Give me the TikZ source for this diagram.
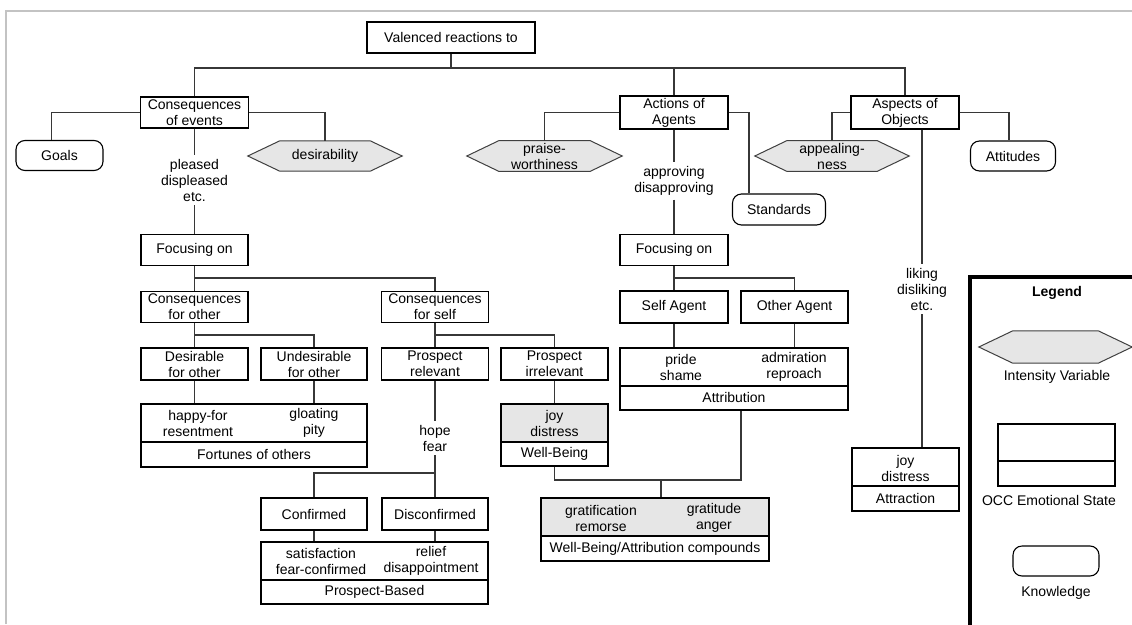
\documentclass[tikz,border=0pt]{standalone}
\usepackage{fontspec}
\setmainfont{Liberation Sans}
\usetikzlibrary{backgrounds}
\definecolor{shade}{RGB}{230,230,230}
\definecolor{linegray}{RGB}{55,55,55}
\definecolor{framegray}{RGB}{195,195,195}
\newcommand\fs{\fontsize{14}{16}\selectfont}
% hexagon outline around a named node (tip inset #1)
\newcommand\hexaround[2][32]{%
  \path[hexline] (#2.west) -- ([xshift=#1]#2.north west) -- ([xshift=-#1]#2.north east)
    -- (#2.east) -- ([xshift=-#1]#2.south east) -- ([xshift=#1]#2.south west) -- cycle;}
\tikzset{
  base/.style={font=\fs, align=center, inner sep=2pt},
  box/.style={base, draw=black, line width=1.1pt, minimum width=107, minimum height=31},
  know/.style={base, draw=black, line width=1.1pt, rounded corners=9pt, minimum height=30},
  hexn/.style={base, minimum height=30},
  lbl/.style={base, inner sep=4pt},
  conn/.style={draw=linegray, line width=1.2pt},
  divline/.style={draw=black, line width=1.1pt},
  hexline/.style={draw=black!75, line width=1pt, fill=shade},
  upfill/.style={fill=shade},
}
\begin{document}
\begin{tikzpicture}[x=1pt, y=-1pt]
\useasboundingbox (0,0) rectangle (1132,624);
% page frame
\draw[framegray, line width=2pt] (6,624) -- (6,11) -- (1132,11);

% top level
\node[box, minimum width=168] (val) at (451,37.5) {Valenced reactions to};
\node[box, minimum width=108] (cev) at (194.5,112.5) {Consequences\\of events};
\node[box, minimum width=108] (aag) at (674,112.5) {Actions of\\Agents};
\node[box, minimum width=108] (aoo) at (905,112.5) {Aspects of\\Objects};

% knowledge and intensity variables
\node[know, minimum width=87] (goals) at (59.5,155.5) {Goals};
\node[hexn, minimum width=154] (desir) at (325,156) {desirability};
\node[hexn, minimum width=155] (praise) at (544.5,156) {praise-\\worthiness};
\node[hexn, minimum width=154] (appeal) at (832,156) {appealing-\\ness};
\node[know, minimum width=85] (atti) at (1013,156) {Attitudes};
\node[know, minimum width=93, minimum height=31] (std) at (779,209.5) {Standards};

% edge labels
\node[lbl] (pl) at (194.5,180) {pleased\\displeased\\etc.};
\node[lbl] (apd) at (674,181) {approving\\disapproving};
\node[lbl] (lik) at (922,289) {liking\\disliking\\etc.};
\node[lbl] (hope) at (435,438) {hope\\fear};

% events branch
\node[box] (focL) at (194.5,250) {Focusing on};
\node[box] (cfo) at (194.5,307) {Consequences\\for other};
\node[box] (cfs) at (435,307) {Consequences\\for self};
\node[box, minimum height=32] (dfo) at (194.5,364) {Desirable\\for other};
\node[box, minimum width=106, minimum height=32] (ufo) at (314,364) {Undesirable\\for other};
\node[box, minimum height=32] (prl) at (435,364) {Prospect\\relevant};
\node[box, minimum height=32] (pir) at (554.5,364) {Prospect\\irrelevant};
\node[box, minimum width=106, minimum height=32] (conf) at (314,514) {Confirmed};
\node[box, minimum width=106, minimum height=32] (disc) at (435,514) {Disconfirmed};

% agents branch
\node[box, minimum width=108] (focR) at (674,250) {Focusing on};
\node[box, minimum width=108, minimum height=32] (selfA) at (674,307) {Self Agent};
\node[box, minimum height=32] (othA) at (794.5,307) {Other Agent};

% emotion boxes (outer frames)
\node[box, minimum width=226, minimum height=63] (fort) at (254,435.5) {};
\node[box, minimum width=107, minimum height=62] (wb) at (554.5,435) {};
\node[box, minimum width=228, minimum height=62] (atb) at (734,379) {};
\node[box, minimum width=227, minimum height=62] (pb) at (374.5,573) {};
\node[box, minimum width=228, minimum height=63] (wba) at (655,529.5) {};
\node[box, minimum width=107, minimum height=63] (atr) at (905.5,479.5) {};

% dividers
\draw[divline] (fort.west |- 0,442) -- (fort.east |- 0,442);
\draw[divline] (wb.west |- 0,442) -- (wb.east |- 0,442);
\draw[divline] (atb.west |- 0,386) -- (atb.east |- 0,386);
\draw[divline] (pb.west |- 0,580) -- (pb.east |- 0,580);
\draw[divline] (wba.west |- 0,536) -- (wba.east |- 0,536);
\draw[divline] (atr.west |- 0,486) -- (atr.east |- 0,486);

% emotion texts
\node[base] (fortA) at (198,423) {happy-for\\resentment};
\node[base] (fortB) at (314,423) {gloating\\pity};
\node[base] (fortC) at (254,454.5) {Fortunes of others};
\node[base] (wbA) at (554.5,423) {joy\\distress};
\node[base] (wbC) at (554.5,454) {Well-Being};
\node[base] (atbA) at (681,367) {pride\\shame};
\node[base] (atbB) at (794,367) {admiration\\reproach};
\node[base] (atbC) at (734,397.5) {Attribution};
\node[base] (pbA) at (321,561) {satisfaction\\fear-confirmed};
\node[base] (pbB) at (431,561) {relief\\disappointment};
\node[base] (pbC) at (374.5,592) {Prospect-Based};
\node[base] (wbaA) at (601,518) {gratification\\remorse};
\node[base] (wbaB) at (714,518) {gratitude\\anger};
\node[base] (wbaC) at (655,548.5) {Well-Being/Attribution compounds};
\node[base] (atrA) at (905.5,468) {joy\\distress};
\node[base] (atrC) at (905.5,498.5) {Attraction};

% connectors: top level
\coordinate (top) at (451,68);
\draw[conn] (val.south) -- (top);
\draw[conn] (cev.north) |- (aoo.north |- top) -- (aoo.north);
\draw[conn] (aag.north) -- (aag.north |- top);
\draw[conn] (cev.west) -| ([xshift=-8]goals.north);
\draw[conn] (cev.east) -| (desir.north);
\draw[conn] (aag.west) -| (praise.north);
\draw[conn] (aag.east) -| ([xshift=-30]std.north);
\draw[conn] (aoo.west) -| (appeal.north);
\draw[conn] (aoo.east) -| ([xshift=-4]atti.north);

% connectors: events
\draw[conn] (cev.south) -- (pl.north);
\draw[conn] (pl.south) -- (focL.north);
\draw[conn] (focL.south) -- (cfo.north);
\draw[conn] (focL.south |- 0,278) -| (cfs.north);
\draw[conn] (cfo.south) -- (dfo.north);
\draw[conn] (cfo.south |- 0,335) -| (ufo.north);
\draw[conn] (cfs.south) -- (prl.north);
\draw[conn] (cfs.south |- 0,335) -| (pir.north);
\draw[conn] (dfo.south) -- (dfo.south |- fort.north);
\draw[conn] (ufo.south) -- (ufo.south |- fort.north);
\draw[conn] (prl.south) -- (hope.north);
\draw[conn] (hope.south) -- (disc.north);
\draw[conn] (disc.north |- 0,473) -| (conf.north);
\draw[conn] (conf.south) -- (conf.south |- pb.north);
\draw[conn] (disc.south) -- (disc.south |- pb.north);
\draw[conn] (pir.south) -- (wb.north);
\coordinate (wbbus) at (741,480);
\draw[conn] (wb.south) |- (wbbus) -- ([xshift=7]atb.south);
\draw[conn] ([xshift=6]wba.north |- wbbus) -- ([xshift=6]wba.north);

% connectors: agents
\draw[conn] (aag.south) -- (apd.north);
\draw[conn] (apd.south) -- (focR.north);
\draw[conn] (focR.south) -- (selfA.north);
\draw[conn] (focR.south |- 0,278) -| (othA.north);
\draw[conn] (selfA.south) -- (selfA.south |- atb.north);
\draw[conn] (othA.south) -- (othA.south |- atb.north);

% connectors: objects
\draw[conn] (aoo.south -| lik) -- (lik.north);
\draw[conn] (lik.south) -- (lik.south |- atr.north);

% legend
\draw[black, line width=3.5pt] (970,626) -- (970,277) -- (1134,277);
\node[base, font=\fs\bfseries] (legT) at (1057,293) {Legend};
\node[hexn, minimum width=153, minimum height=32] (legH) at (1055.5,347) {};
\node[base] (legHt) at (1057,377) {Intensity Variable};
\node[box, minimum width=117, minimum height=62] (legB) at (1056.5,455) {};
\draw[divline] (legB.west |- 0,461) -- (legB.east |- 0,461);
\node[base] (legBt) at (1049,500) {OCC Emotional State};
\node[know, minimum width=86] (legK) at (1056,561) {};
\node[base] (legKt) at (1056,593) {Knowledge};

% shaded shapes behind the texts
\begin{scope}[on background layer]
  \fill[white] (0,0) rectangle (1132,624);
  \hexaround{desir}
  \hexaround{praise}
  \hexaround{appeal}
  \hexaround[34]{legH}
  \fill[upfill] (wb.north west) rectangle (wb.east |- 0,442);
  \fill[upfill] (wba.north west) rectangle (wba.east |- 0,536);
\end{scope}
\end{tikzpicture}
\end{document}
